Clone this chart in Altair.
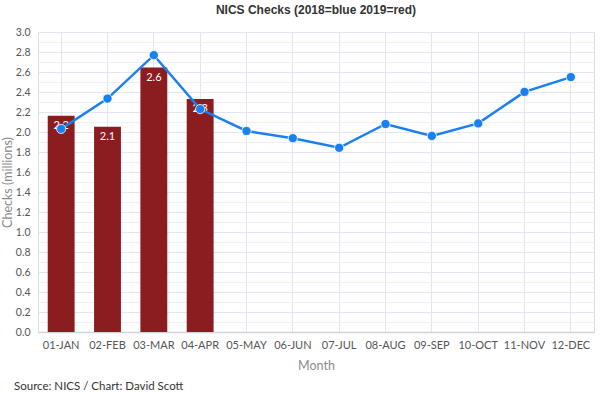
import altair as alt
import pandas as pd

months = ["01-JAN", "02-FEB", "03-MAR", "04-APR", "05-MAY", "06-JUN",
          "07-JUL", "08-AUG", "09-SEP", "10-OCT", "11-NOV", "12-DEC"]
checks_2018 = [2.031, 2.334, 2.768, 2.229, 2.010, 1.938, 1.842, 2.080, 1.961, 2.086, 2.401, 2.549]
months_2019 = ["01-JAN", "02-FEB", "03-MAR", "04-APR"]
checks_2019 = [2.163, 2.053, 2.645, 2.331]

df18 = pd.DataFrame({"Month": months, "Checks": checks_2018})
df19 = pd.DataFrame({"Month": months_2019, "Checks": checks_2019})

FONT = "Lato"
yvals = [round(i * 0.1, 1) for i in range(31)]

x = alt.X("Month:N", sort=months, title="Month",
          scale=alt.Scale(domain=months, paddingInner=0.42, paddingOuter=0.21),
          axis=alt.Axis(labelAngle=0, labelFontSize=11, labelColor="#555555",
                        labelFont=FONT, titleFont=FONT, titleFontSize=12.5,
                        titleFontWeight="normal", titleColor="#8c8c8c",
                        titlePadding=9, labelPadding=7, ticks=False,
                        grid=True, gridColor="#e3e6ee", domainColor="#cfd3dc",
                        domainWidth=1.5, bandPosition=0.5))
y_axis = alt.Axis(values=yvals, ticks=False, domain=False, labelOverlap=False,
                  labelExpr="round(datum.value*10) % 2 == 0 ? format(datum.value, '.1f') : ''",
                  gridColor={"condition": {"test": "round(datum.value*10) % 2 == 0", "value": "#e3e6ee"},
                             "value": "#eef0f4"},
                  labelFontSize=10.5, labelColor="#555555", labelFont=FONT,
                  titleFont=FONT, titleFontSize=12.5, titleFontWeight="normal",
                  titleColor="#8c8c8c", titleX=-31, titleY=150, titleAngle=270,
                  titleBaseline="middle", titleAlign="center", labelPadding=8)
y = alt.Y("Checks:Q", title="Checks (millions)",
          scale=alt.Scale(domain=[0, 3.0], nice=False), axis=y_axis)

bars = alt.Chart(df19).mark_bar(color="#8b1c1f").encode(x=x, y=y)
labels = alt.Chart(df19).mark_text(color="white", baseline="top", dy=4,
                                   fontSize=11, font=FONT).encode(
    x=x, y=y, text=alt.Text("Checks:Q", format=".1f"))
line = alt.Chart(df18).mark_line(color="#1a80f2", strokeWidth=2.5).encode(x=x, y=y)
pts = alt.Chart(df18).mark_point(filled=True, color="#1a80f2", size=85, opacity=1,
                                 stroke="white", strokeWidth=0.8).encode(x=x, y=y)
source = alt.Chart(pd.DataFrame({"t": ["Source: NICS / Chart: David Scott"]})).mark_text(
    align="left", baseline="middle", fontSize=11.5, font=FONT, color="#333333").encode(
    x=alt.value(-24), y=alt.value(355), text="t:N")

chart = alt.layer(bars, labels, line, pts, source).properties(
    width=556, height=300,
    title=alt.TitleParams("NICS Checks (2018=blue 2019=red)", fontSize=12,
                          fontWeight="bold", font="Liberation Sans", color="#333333", offset=10),
    autosize=alt.AutoSizeParams(type="none"),
    padding={"left": 38, "top": 32, "right": 6, "bottom": 63},
).configure_view(stroke=None).configure(background="white")

chart.save("out.html", embed_options={"renderer": "svg", "actions": False})
